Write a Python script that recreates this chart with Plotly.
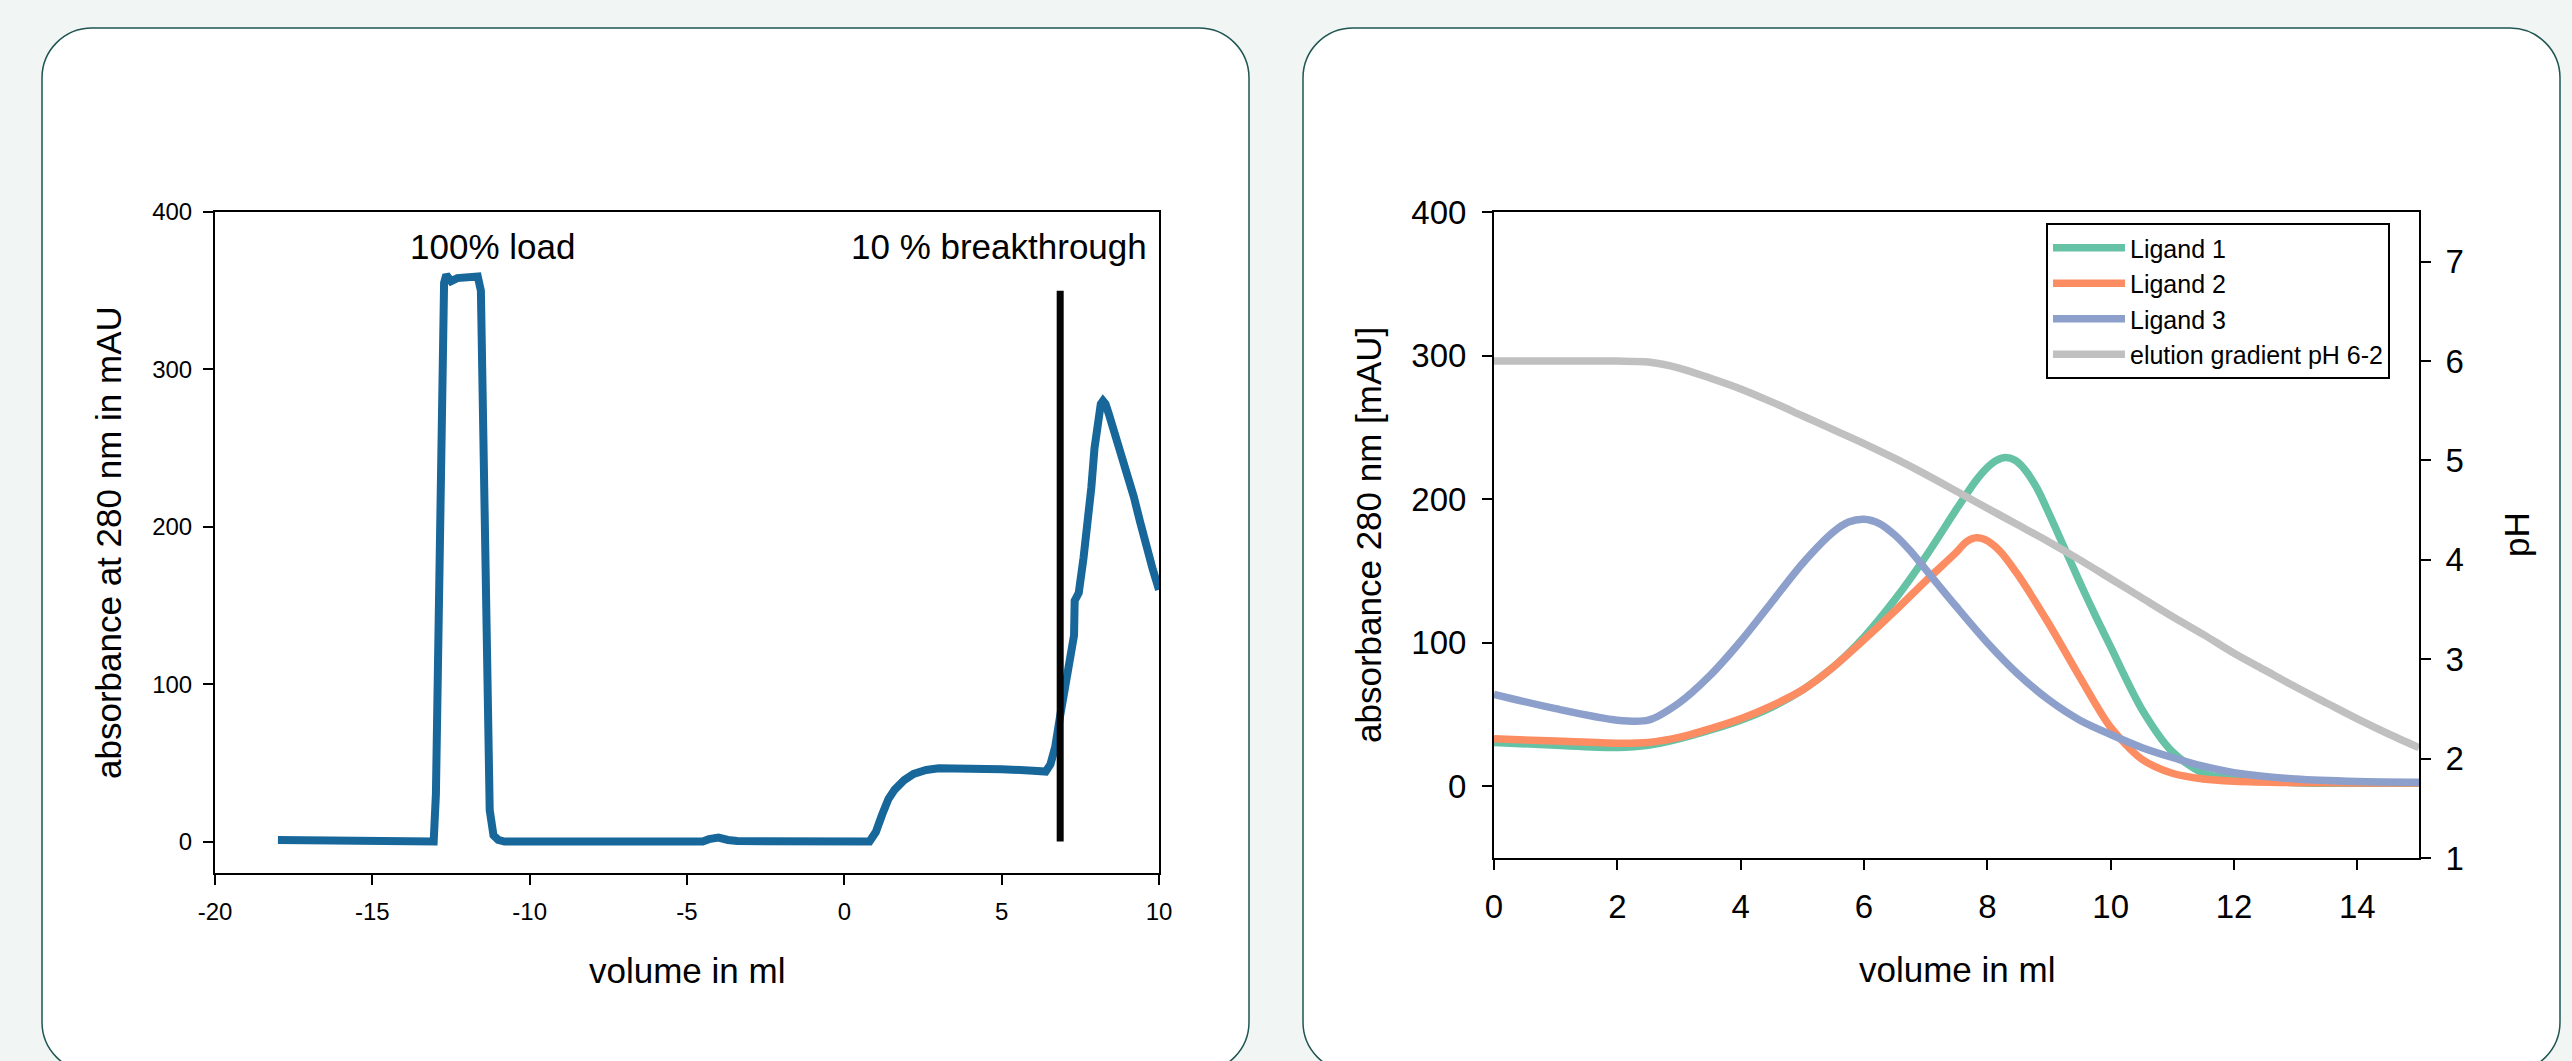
import plotly.graph_objects as go

W, H = 2572, 1061

# ---------------- data: left panel (breakthrough curve) ----------------
left_volume = [-18.0, -13.35, -13.3, -13.05, -12.98, -12.9, -12.8, -12.72, -12.65, -12.5,
               -12.3, -11.65, -11.55, -11.45, -11.35, -11.27, -11.15, -11.0, -10.8,
               -4.5, -4.3, -4.0, -3.7, -3.4, 0.8, 1.0, 1.2, 1.4, 1.6, 1.9, 2.2, 2.6,
               3.0, 4.0, 5.0, 6.0, 6.4, 6.55, 6.7, 6.86, 7.0, 7.15, 7.3, 7.32, 7.38,
               7.45, 7.6, 7.75, 7.85, 7.95, 8.05, 8.15, 8.22, 8.3, 8.4, 8.6, 8.8, 8.95,
               9.2, 9.4, 9.59, 9.8, 10.0]
left_absorbance = [1, 1, 0, 0, 30, 150, 330, 355, 360, 356,
                   358, 359, 350, 250, 100, 20, 4, 1, 0,
                   0, 1.5, 2.5, 1, 0.3, 0, 6, 17, 27, 33, 39, 43, 45.5,
                   46.5, 46.5, 46, 45, 44.5, 49, 60, 80, 98, 116, 131, 153, 155,
                   158, 180, 205, 225, 250, 268, 278, 280, 278, 272, 259, 247, 238,
                   219, 203, 187, 173, 160]
breakthrough_volume = [6.86, 6.86]
breakthrough_absorbance = [0, 350]

left_xticks = [-20, -15, -10, -5, 0, 5, 10]
left_xticktext = ["-20", "-15", "-10", "-5", "0", "5", "10"]
left_yticks = [0, 100, 200, 300, 400]

# ---------------- data: right panel (elution) ----------------
ligand1_volume = [0, 1, 2, 2.5, 3, 3.5, 4, 4.5, 5, 5.5, 6, 6.5, 7, 7.5, 7.8, 8.0, 8.15, 8.3,
                  8.45, 8.6, 8.8, 9.0, 9.25, 9.5, 9.75, 10, 10.5, 11, 11.5, 12, 13, 14, 15]
ligand1 = [30.5, 28.5, 27, 28.5, 33, 39, 46, 55, 67, 83, 104, 130, 160, 193, 212, 222, 227, 229,
           227, 221, 208, 190, 166, 142, 119, 97, 54, 24, 9, 5, 2.5, 2, 2]
ligand2_volume = [0, 1, 2, 2.5, 3, 3.5, 4, 4.5, 5, 5.5, 6, 6.5, 7, 7.5, 7.65, 7.8, 7.95, 8.2,
                  8.5, 9, 9.5, 10, 10.5, 11, 11.5, 12, 13, 14, 15]
ligand2 = [33, 31.5, 30, 30.5, 34, 40, 47, 56, 67, 83, 102, 122, 143, 163, 170, 173, 172, 164,
           147, 113, 76, 41, 19, 9, 5, 3.5, 2.5, 2.3, 2.3]
ligand3_volume = [0, 1, 2, 2.5, 3, 3.5, 4, 4.5, 5, 5.5, 5.75, 6.0, 6.25, 6.5, 6.75, 7.0, 7.5,
                  8, 8.5, 9, 9.5, 10, 10.5, 11, 11.5, 12, 13, 14, 15]
ligand3 = [64, 54, 46, 46, 58, 77, 101, 128, 155, 177, 184, 186, 183, 175, 164, 151, 125,
           100, 78, 60, 46, 36, 27, 20, 14, 9.5, 5, 3.3, 2.8]
ph_volume = [0, 1, 2, 2.5, 3, 3.5, 4, 4.5, 5, 5.5, 6, 6.5, 7, 7.5, 8, 8.5, 9, 9.5, 10,
             10.5, 11, 11.5, 12, 12.5, 13, 13.5, 14, 14.5, 15]
ph_values = [6.0, 6.0, 6.0, 5.99, 5.93, 5.83, 5.72, 5.59, 5.45, 5.31, 5.17, 5.02, 4.86, 4.69,
             4.52, 4.35, 4.18, 4.0, 3.81, 3.62, 3.43, 3.25, 3.06, 2.89, 2.72, 2.56, 2.40, 2.25, 2.11]

series_names = ["Ligand 1", "Ligand 2", "Ligand 3", "elution gradient pH 6-2"]
series_colors = ["#66c2a5", "#fc8d62", "#8da0cb", "#c0c0c0"]

right_xticks = [0, 2, 4, 6, 8, 10, 12, 14]
right_yticks = [0, 100, 200, 300, 400]
ph_ticks = [1, 2, 3, 4, 5, 6, 7]

FONT = "Liberation Sans, Arial, sans-serif"
PAGE_BG = "#f1f6f4"


def fx(p):
    return p / W


def fy(p):
    return 1 - p / H


def rounded_rect(x0, y0, x1, y1, r):
    k = 0.5523 * r
    pts = [
        f"M{fx(x0 + r)},{fy(y0)}",
        f"L{fx(x1 - r)},{fy(y0)}",
        f"C{fx(x1 - r + k)},{fy(y0)} {fx(x1)},{fy(y0 + r - k)} {fx(x1)},{fy(y0 + r)}",
        f"L{fx(x1)},{fy(y1 - r)}",
        f"C{fx(x1)},{fy(y1 - r + k)} {fx(x1 - r + k)},{fy(y1)} {fx(x1 - r)},{fy(y1)}",
        f"L{fx(x0 + r)},{fy(y1)}",
        f"C{fx(x0 + r - k)},{fy(y1)} {fx(x0)},{fy(y1 - r + k)} {fx(x0)},{fy(y1 - r)}",
        f"L{fx(x0)},{fy(y0 + r)}",
        f"C{fx(x0)},{fy(y0 + r - k)} {fx(x0 + r - k)},{fy(y0)} {fx(x0 + r)},{fy(y0)}",
        "Z",
    ]
    return " ".join(pts)


fig = go.Figure()

# left panel
fig.add_trace(go.Scatter(x=left_volume, y=left_absorbance, mode="lines",
                         line=dict(color="#17679a", width=8), showlegend=False,
                         xaxis="x", yaxis="y"))
fig.add_trace(go.Scatter(x=breakthrough_volume, y=breakthrough_absorbance, mode="lines",
                         line=dict(color="#050505", width=7), showlegend=False,
                         xaxis="x", yaxis="y"))

# right panel
for name, color, xs, vals in zip(series_names[:3], series_colors[:3],
                                 [ligand1_volume, ligand2_volume, ligand3_volume],
                                 [ligand1, ligand2, ligand3]):
    fig.add_trace(go.Scatter(x=xs, y=vals, mode="lines", name=name,
                             line=dict(color=color, width=7.5, shape="spline", smoothing=0.8),
                             xaxis="x2", yaxis="y2"))
fig.add_trace(go.Scatter(x=ph_volume, y=ph_values, mode="lines", name=series_names[3],
                         line=dict(color=series_colors[3], width=7.5, shape="spline", smoothing=0.8),
                         xaxis="x2", yaxis="y3"))

axis_common = dict(showgrid=False, zeroline=False, showline=True, linecolor="black",
                   linewidth=2, ticks="outside", ticklen=10, tickwidth=2, tickcolor="black",
                   automargin=False)

left_tickfont = dict(family=FONT, size=24, color="black")
right_tickfont = dict(family=FONT, size=33, color="black")

fig.update_layout(
    width=W, height=H,
    autosize=False,
    margin=dict(l=0, r=0, t=0, b=0, pad=0, autoexpand=False),
    paper_bgcolor=PAGE_BG,
    plot_bgcolor="rgba(0,0,0,0)",
    font=dict(family=FONT, color="black"),
    xaxis=dict(domain=[fx(215), fx(1159)], range=[-20, 10], anchor="y", mirror=True,
               tickvals=left_xticks, ticktext=left_xticktext, tickfont=left_tickfont,
               ticklabelstandoff=6, **axis_common),
    yaxis=dict(domain=[fy(873), fy(212)], range=[-20, 400], anchor="x", mirror=True,
               tickvals=left_yticks, tickfont=left_tickfont, ticklabelstandoff=6,
               **axis_common),
    xaxis2=dict(domain=[fx(1494), fx(2419)], range=[0, 15], anchor="y2", mirror=True,
                tickvals=right_xticks, tickfont=right_tickfont, ticklabelstandoff=8,
                **axis_common),
    yaxis2=dict(domain=[fy(858), fy(212)], range=[-50, 400], anchor="x2",
                tickvals=right_yticks, tickfont=right_tickfont, ticklabelstandoff=9,
                **axis_common),
    yaxis3=dict(overlaying="y2", side="right", range=[1, 7.5], anchor="x2",
                tickvals=ph_ticks, tickfont=right_tickfont, ticklabelstandoff=8,
                **axis_common),
    legend=dict(x=fx(2046), y=fy(223), xanchor="left", yanchor="top",
                bgcolor="white", bordercolor="black", borderwidth=2,
                font=dict(family=FONT, size=25, color="black"), itemwidth=72),
    shapes=[
        dict(type="path", xref="paper", yref="paper", layer="below",
             path=rounded_rect(42, 28, 1249, 1072, 50),
             fillcolor="white", line=dict(color="#1f5552", width=1.5)),
        dict(type="path", xref="paper", yref="paper", layer="below",
             path=rounded_rect(1303, 28, 2560, 1072, 50),
             fillcolor="white", line=dict(color="#1f5552", width=1.5)),
    ],
)

annotations = [
    dict(text="100% load", x=-11.17, y=378, xref="x", yref="y", showarrow=False,
         xanchor="center", yanchor="middle", font=dict(size=35)),
    dict(text="10 % breakthrough", x=9.67, y=378, xref="x", yref="y", showarrow=False,
         xanchor="right", yanchor="middle", font=dict(size=35)),
    # axis titles
    dict(text="volume in ml", x=fx(687), y=fy(970), xref="paper", yref="paper",
         showarrow=False, xanchor="center", yanchor="middle", font=dict(size=35)),
    dict(text="absorbance at 280 nm in mAU", x=fx(108), y=fy(543), xref="paper", yref="paper",
         showarrow=False, xanchor="center", yanchor="middle", textangle=-90, font=dict(size=35)),
    dict(text="volume in ml", x=fx(1957), y=fy(969), xref="paper", yref="paper",
         showarrow=False, xanchor="center", yanchor="middle", font=dict(size=35)),
    dict(text="absorbance 280 nm [mAU]", x=fx(1368), y=fy(535), xref="paper", yref="paper",
         showarrow=False, xanchor="center", yanchor="middle", textangle=-90, font=dict(size=35)),
    dict(text="pH", x=fx(2516), y=fy(535), xref="paper", yref="paper",
         showarrow=False, xanchor="center", yanchor="middle", textangle=-90, font=dict(size=35)),
]
fig.update_layout(annotations=annotations)

page_fix = ("document.body.style.margin='0';"
            "document.body.style.overflow='hidden';"
            f"document.body.style.background='{PAGE_BG}';")
fig.write_html("out.html", post_script=page_fix, config={"displayModeBar": False})
